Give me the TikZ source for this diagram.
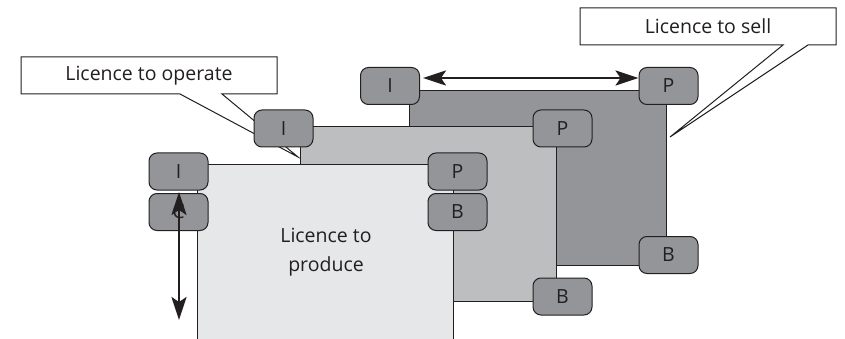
\documentclass[tikz,border=0pt]{standalone}
\usepackage{fontspec}
\setmainfont{Open Sans}
\usetikzlibrary{arrows.meta}
\definecolor{ink}{HTML}{231F20}
\definecolor{frontfill}{HTML}{E6E7E8}
\definecolor{midfill}{HTML}{BCBEC0}
\definecolor{backfill}{HTML}{939598}
\definecolor{boxfill}{HTML}{939598}
\begin{document}
\begin{tikzpicture}[x=1pt,y=-1pt,
  font=\fontsize{19.5}{23}\selectfont,
  panel/.style={draw=ink, line width=1pt, anchor=north west, inner sep=0pt},
  tag/.style={draw=ink, fill=boxfill, line width=1pt, rounded corners=8pt,
    minimum width=59pt, minimum height=37pt, inner sep=0pt, text=ink},
  callout/.style={draw=ink, fill=white, line width=1pt, line join=miter},
  tip/.tip={Stealth[length=23pt 0,width=15pt 0,inset=5pt 0]},
  dbl/.style={tip-tip, line width=2.3pt, draw=ink}
]
\useasboundingbox (0,0) rectangle (845,339);
\clip (0,0) rectangle (845,339);

% back panel
\node[panel, fill=backfill, minimum width=257pt, minimum height=175pt] (back) at (409,90) {};
% callout: licence to sell
\coordinate (selltip) at (670,137);
\draw[callout] (580,8) -- (836,8) -- (836,45) -- (808,45) -- (selltip) -- (783,45) -- (580,45) -- cycle;
\node[text=ink] (selltxt) at (708,26) {Licence to sell};
% back tags
\node[tag] (backI) at (390,86) {I};
\node[tag] (backP) at (668.5,86) {P};
\node[tag] (backB) at (668.5,255) {B};

% callout: licence to operate
\coordinate (optip) at (298,157);
\draw[callout] (21,57) -- (277,57) -- (277,94) -- (222,94) -- (optip) -- (180,94) -- (21,94) -- cycle;
\node[text=ink] (optxt) at (149,75.5) {Licence to operate};

% middle panel
\node[panel, fill=midfill, minimum width=256pt, minimum height=175pt] (mid) at (300,126) {};
\node[tag] (midI) at (283.5,128.5) {I};
\node[tag] (midP) at (562.5,128.5) {P};
\node[tag] (midB) at (562.5,296.5) {B};

% front panel
\node[panel, fill=frontfill, minimum width=256pt, minimum height=200pt] (front) at (197,164) {};
\node[text=ink, align=center, font=\fontsize{19.5}{29}\selectfont] (prod) at (326,252) {Licence to\\produce};
\node[tag] (frontI) at (178.5,171.5) {I};
\node[tag] (frontC) at (178.5,212) {C};
\node[tag] (frontP) at (457.5,171.5) {P};
\node[tag] (frontB) at (457.5,212) {B};

% arrows
\coordinate (vtop) at (179,192);
\coordinate (vbot) at (179,320);
\draw[dbl] (vtop) -- (vbot);
\draw[dbl] (backI.east |- 0,78) ++(3,0) coordinate (hl) -- (backP.west |- 0,78) coordinate (hr);
\end{tikzpicture}
\end{document}
